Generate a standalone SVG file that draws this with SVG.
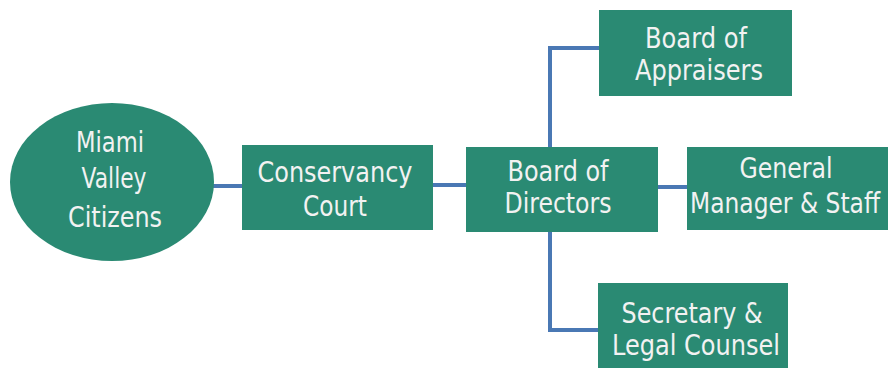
<svg xmlns="http://www.w3.org/2000/svg" width="888" height="370" viewBox="0 0 888 370">
  <style>
    .node { fill: #2a8a73; }
    .lbl { font-family: "DejaVu Sans", "Liberation Sans", sans-serif; font-size: 29px; fill: #f2f2f2; text-anchor: middle; }
    .wire { fill: none; stroke: #4a78b4; stroke-width: 4; stroke-linejoin: miter; }
  </style>
  <rect width="888" height="370" fill="#ffffff"/>

  <!-- connectors -->
  <g id="connectors">
    <line class="wire" x1="212" y1="186" x2="242" y2="186"/>
    <line class="wire" x1="433" y1="185" x2="466" y2="185"/>
    <line class="wire" x1="658" y1="187" x2="687" y2="187"/>
    <polyline class="wire" points="599,48 550,48 550,330 598,330"/>
  </g>

  <g id="miami-valley-citizens">
    <ellipse class="node" cx="112" cy="182" rx="102" ry="79"/>
    <text class="lbl" x="110" y="152" textLength="68" lengthAdjust="spacingAndGlyphs">Miami</text>
    <text class="lbl" x="114" y="188" textLength="65" lengthAdjust="spacingAndGlyphs">Valley</text>
    <text class="lbl" x="115" y="227" textLength="94" lengthAdjust="spacingAndGlyphs">Citizens</text>
  </g>

  <g id="conservancy-court">
    <rect class="node" x="242" y="145" width="191" height="85"/>
    <text class="lbl" x="335" y="182" textLength="155" lengthAdjust="spacingAndGlyphs">Conservancy</text>
    <text class="lbl" x="335" y="216" textLength="64" lengthAdjust="spacingAndGlyphs">Court</text>
  </g>

  <g id="board-of-directors">
    <rect class="node" x="466" y="147" width="192" height="85"/>
    <text class="lbl" x="558" y="181" textLength="101" lengthAdjust="spacingAndGlyphs">Board of</text>
    <text class="lbl" x="558" y="213" textLength="107" lengthAdjust="spacingAndGlyphs">Directors</text>
  </g>

  <g id="board-of-appraisers">
    <rect class="node" x="599" y="10" width="193" height="86"/>
    <text class="lbl" x="696" y="48" textLength="102" lengthAdjust="spacingAndGlyphs">Board of</text>
    <text class="lbl" x="699" y="80" textLength="128" lengthAdjust="spacingAndGlyphs">Appraisers</text>
  </g>

  <g id="general-manager-staff">
    <rect class="node" x="687" y="147" width="201" height="83"/>
    <text class="lbl" x="786" y="178" textLength="93" lengthAdjust="spacingAndGlyphs">General</text>
    <text class="lbl" x="785" y="213" textLength="190" lengthAdjust="spacingAndGlyphs">Manager &amp; Staff</text>
  </g>

  <g id="secretary-legal-counsel">
    <rect class="node" x="598" y="283" width="190" height="85"/>
    <text class="lbl" x="692" y="323" textLength="141" lengthAdjust="spacingAndGlyphs">Secretary &amp;</text>
    <text class="lbl" x="696" y="355" textLength="168" lengthAdjust="spacingAndGlyphs">Legal Counsel</text>
  </g>
</svg>
